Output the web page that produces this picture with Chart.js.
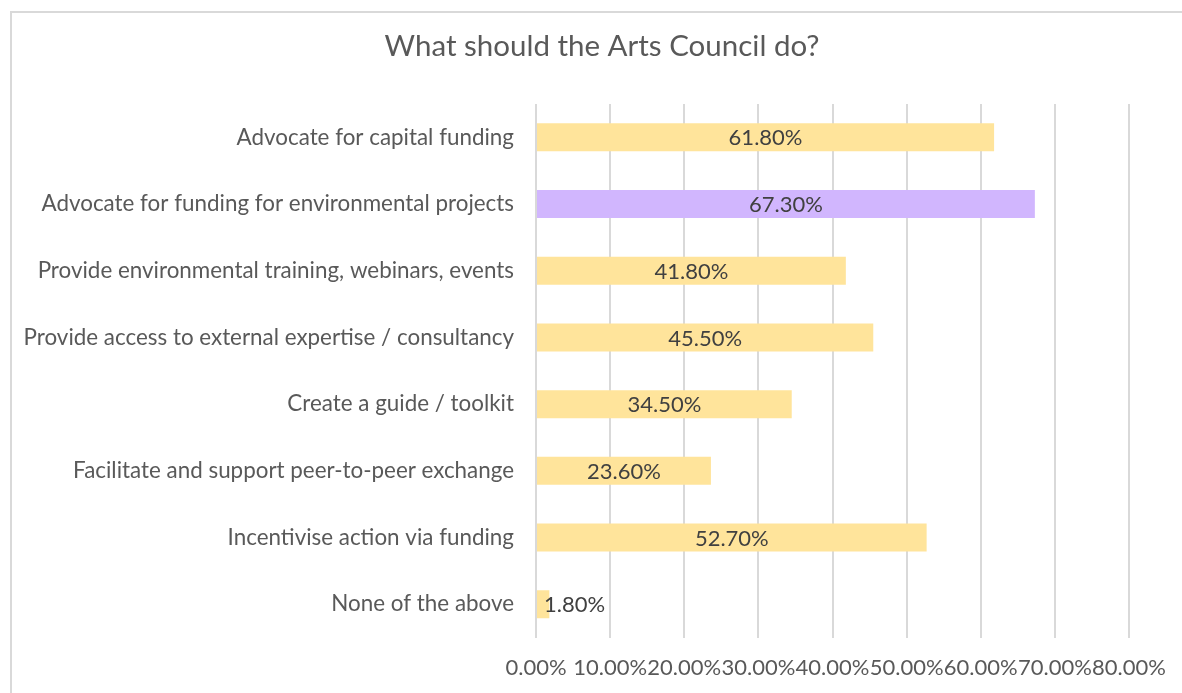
<!DOCTYPE html>
<html>
<head>
<meta charset="utf-8">
<script src="https://cdn.jsdelivr.net/npm/chart.js@4/dist/chart.umd.min.js"></script>
<style>
  html, body { margin: 0; padding: 0; background: #fff; overflow: hidden; }
  #frame {
    position: absolute; left: 10px; top: 11px; width: 1300px; height: 800px;
    border-left: 2px solid #d9d9d9; border-top: 2px solid #d9d9d9;
  }
  #chart { position: absolute; left: 0; top: 0; }
</style>
</head>
<body>
<div id="frame"></div>
<canvas id="chart" width="1204" height="693"></canvas>
<script>
// ========================================
// DATA
// ========================================
const categories = [
    'Advocate for capital funding',
    'Advocate for funding for environmental projects',
    'Provide environmental training, webinars, events',
    'Provide access to external expertise / consultancy',
    'Create a guide / toolkit',
    'Facilitate and support peer-to-peer exchange',
    'Incentivise action via funding',
    'None of the above'
];
const shares = [61.8, 67.3, 41.8, 45.5, 34.5, 23.6, 52.7, 1.8];
const highlightIndex = 1;
const xTicks = [0, 10, 20, 30, 40, 50, 60, 70, 80];
const chartTitle = 'What should the Arts Council do?';

const FONT = 'Lato';
const barColors = shares.map((_, i) => i === highlightIndex ? '#d1b6fe' : '#ffe49b');

// ========================================
// TITLE (centered on the whole frame, not the plot box)
// ========================================
const frameTitle = {
    id: 'frameTitle',
    afterDraw(chart) {
        const ctx = chart.ctx;
        ctx.save();
        ctx.font = '29.5px ' + FONT;
        ctx.fillStyle = '#595959';
        ctx.textAlign = 'center';
        ctx.textBaseline = 'middle';
        ctx.fillText(chartTitle, chart.width / 2, 46);
        ctx.restore();
    }
};

// ========================================
// VALUE LABELS (centered in each bar)
// ========================================
const valueLabels = {
    id: 'valueLabels',
    afterDatasetsDraw(chart) {
        const ctx = chart.ctx;
        const meta = chart.getDatasetMeta(0);
        ctx.save();
        ctx.font = '22px ' + FONT;
        ctx.fillStyle = '#404040';
        ctx.textBaseline = 'middle';
        ctx.textAlign = 'center';
        meta.data.forEach((bar, i) => {
            const text = shares[i].toFixed(2) + '%';
            const w = ctx.measureText(text).width;
            let x = (bar.x + bar.base) / 2;
            // too narrow: push the label past the start of the bar
            if (w > bar.x - bar.base) x = bar.base + w / 2 + 7;
            ctx.fillText(text, x, bar.y + 1);
        });
        ctx.restore();
    }
};

new Chart(document.getElementById('chart'), {
    type: 'bar',
    data: {
        labels: categories,
        datasets: [{
            data: shares,
            backgroundColor: barColors,
            borderWidth: 0,
            barPercentage: 0.42,
            categoryPercentage: 1
        }]
    },
    plugins: [valueLabels, frameTitle],
    options: {
        indexAxis: 'y',
        responsive: false,
        animation: false,
        layout: {
            padding: { left: 0, right: 75, top: 104, bottom: -5 }
        },
        plugins: {
            legend: { display: false },
            tooltip: { enabled: false },
            title: { display: false }
        },
        scales: {
            x: {
                min: 0,
                max: 80,
                afterBuildTicks(axis) {
                    axis.ticks = xTicks.map(v => ({ value: v }));
                },
                ticks: {
                    color: '#595959',
                    font: { family: FONT, size: 22 },
                    padding: 17,
                    maxRotation: 0,
                    autoSkip: false,
                    callback: v => v.toFixed(2) + '%'
                },
                grid: {
                    color: '#d9d9d9',
                    lineWidth: 2,
                    drawTicks: false
                },
                border: { display: false }
            },
            y: {
                afterFit(axis) { axis.width = 536; },
                ticks: {
                    color: '#595959',
                    font: { family: FONT, size: 22.4 },
                    padding: 22
                },
                grid: { display: false, drawTicks: false },
                border: { display: false }
            }
        }
    }
});
</script>
</body>
</html>
